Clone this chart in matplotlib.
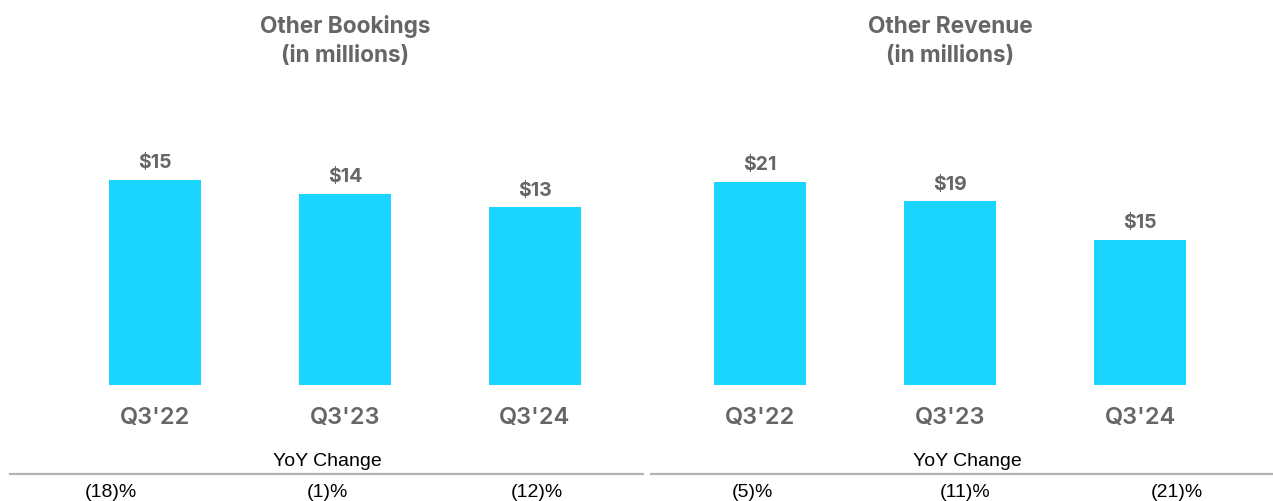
import matplotlib
matplotlib.use("Agg")
import matplotlib.pyplot as plt
from matplotlib.lines import Line2D

# Data
quarters = ["Q3'22", "Q3'23", "Q3'24"]
bookings = [15, 14, 13]
revenue = [21, 19, 15]
bookings_yoy = ["(18)%", "(1)%", "(12)%"]
revenue_yoy = ["(5)%", "(11)%", "(21)%"]

BAR = "#1AD5FF"
TXT = "#666666"
RULE = "#b3b3b3"
W, H = 1273, 502

fig = plt.figure(figsize=(W / 100, H / 100), dpi=100)


def px(x, y):
    """Convert top-left pixel coordinates to figure fraction."""
    return x / W, 1 - y / H


def panel(left_px, values, top_value_px, title):
    ax = fig.add_axes([left_px / W, 116 / H, 570 / W, 250 / H])
    x = list(range(len(values)))
    bars = ax.bar(x, values, width=0.485, color=BAR, zorder=2)
    ax.set_xlim(-0.5, 2.5)
    ax.set_ylim(0, values[0] * 250 / top_value_px)
    for b, v in zip(bars, values):
        ax.annotate(f"${v}", (b.get_x() + b.get_width() / 2, v),
                    xytext=(0, 9), textcoords="offset points",
                    ha="center", va="baseline", fontsize=14,
                    fontweight="bold", color=TXT, family="Inter")
    ax.set_xticks(x)
    ax.set_xticklabels(quarters, fontsize=17, color=TXT, family="Inter",
                       fontweight="semibold")
    ax.tick_params(axis="x", length=0, pad=15)
    ax.set_yticks([])
    for s in ax.spines.values():
        s.set_visible(False)
    cx = left_px + 285
    fig.text(*px(cx, 27), title[0], ha="center", va="center", fontsize=16.3,
             fontweight="bold", color=TXT, family="Inter")
    fig.text(*px(cx, 56), title[1], ha="center", va="center", fontsize=16.3,
             fontweight="bold", color=TXT, family="Inter")
    return ax


panel(60, bookings, 205, ("Other Bookings", "(in millions)"))
panel(665, revenue, 203, ("Other Revenue", "(in millions)"))

# YoY change table
for cx in (327, 967):
    fig.text(*px(cx, 462), "YoY Change", ha="center", va="center",
             fontsize=14, color="black", family="Liberation Sans")

for x0, x1 in ((10, 643), (651, 1273)):
    fig.add_artist(Line2D([x0 / W, x1 / W], [1 - 475 / H] * 2,
                          color=RULE, lw=1.6, transform=fig.transFigure))

for cx, label in zip((111, 327, 537), bookings_yoy):
    fig.text(*px(cx, 493), label, ha="center", va="center",
             fontsize=14, color="black", family="Liberation Sans")
for cx, label in zip((752, 965, 1177), revenue_yoy):
    fig.text(*px(cx, 493), label, ha="center", va="center",
             fontsize=14, color="black", family="Liberation Sans")

fig.savefig("out.png", dpi=100, facecolor="white")
